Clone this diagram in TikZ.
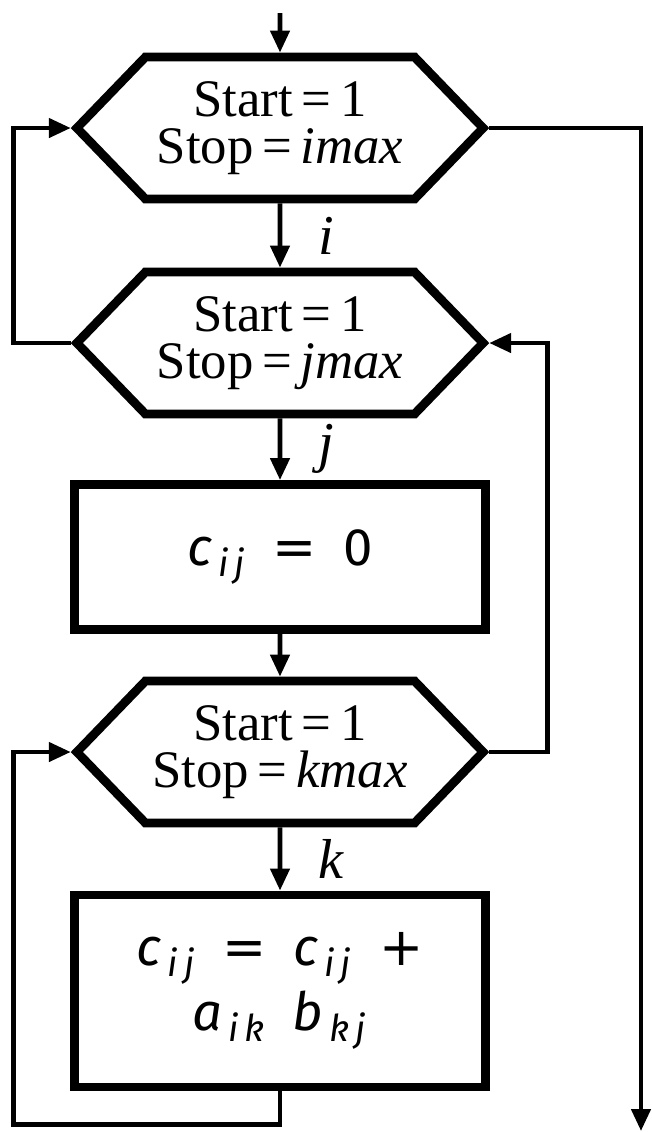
\documentclass[tikz,border=0pt]{standalone}
\usepackage{fontspec}
\setmainfont{Liberation Serif}
\newfontfamily\boxfont{Fira Sans}
\newfontfamily\symfont{DejaVu Sans}
\usetikzlibrary{arrows.meta, positioning, calc, shapes.symbols}

\newcommand{\eqsign}{\enspace{\upshape\symfont=}\enspace}
\newcommand{\plussign}{\enspace{\upshape\symfont+}}

\begin{document}
\begin{tikzpicture}[
    x=0.01cm, y=-0.01cm,
    >={Triangle[length=0.22cm, width=0.19cm]},
    loopbox/.style={draw, line width=2.5pt, signal, signal to=west and east,
        signal pointer angle=92, minimum width=4.06cm, minimum height=1.42cm,
        align=center, inner sep=0pt, font=\fontsize{15}{13.5}\selectfont},
    stepbox/.style={draw, line width=2.5pt, minimum width=4.1cm, align=center,
        font=\boxfont\itshape\fontsize{15}{18.5}\selectfont},
    flow/.style={->, line width=1.3pt},
    idx/.style={right=7pt, font=\itshape\fontsize{16}{16}\selectfont}
]
    \useasboundingbox (0,0) rectangle (652,1132);

    \coordinate (entry) at (280,13);
    \coordinate (exit) at (641,1131);

    \node[loopbox] (li) at (280,128) {Start\thinspace=\thinspace1\\Stop\thinspace=\thinspace\textit{imax}};
    \node[loopbox] (lj) at (280,343) {Start\thinspace=\thinspace1\\Stop\thinspace=\thinspace\textit{jmax}};
    \node[stepbox, minimum height=1.45cm] (init) at (280,557)
        {c\textsubscript{\,i\,j}\eqsign{\upshape 0}};
    \node[loopbox] (lk) at (280,752) {Start\thinspace=\thinspace1\\Stop\thinspace=\thinspace\textit{kmax}};
    \node[stepbox, minimum height=1.92cm] (accum) at (280,991)
        {c\textsubscript{\,i\,j}\eqsign c\textsubscript{\,i\,j}\plussign\\a\textsubscript{\,i\,k}\enspace b\textsubscript{\,k\,j}};

    \draw[flow] (entry) -- (li);
    \draw[flow] (li) -- node[idx] {i} (lj);
    \draw[flow] (lj) -- node[idx] {j} (init);
    \draw[flow] (init) -- (lk);
    \draw[flow] (lk) -- node[idx] {k} (accum);

    % loop returns
    \draw[flow] (accum.south) -- ++(0,33) -| ($(lk.west)+(-57,0)$) -- (lk.west);
    \draw[flow] (lk.east) -| ($(lj.east)+(58,0)$) -- (lj.east);
    \draw[flow] (lj.west) -| ($(li.west)+(-57,0)$) -- (li.west);
    \draw[flow] (li.east) -| (exit);
\end{tikzpicture}
\end{document}
